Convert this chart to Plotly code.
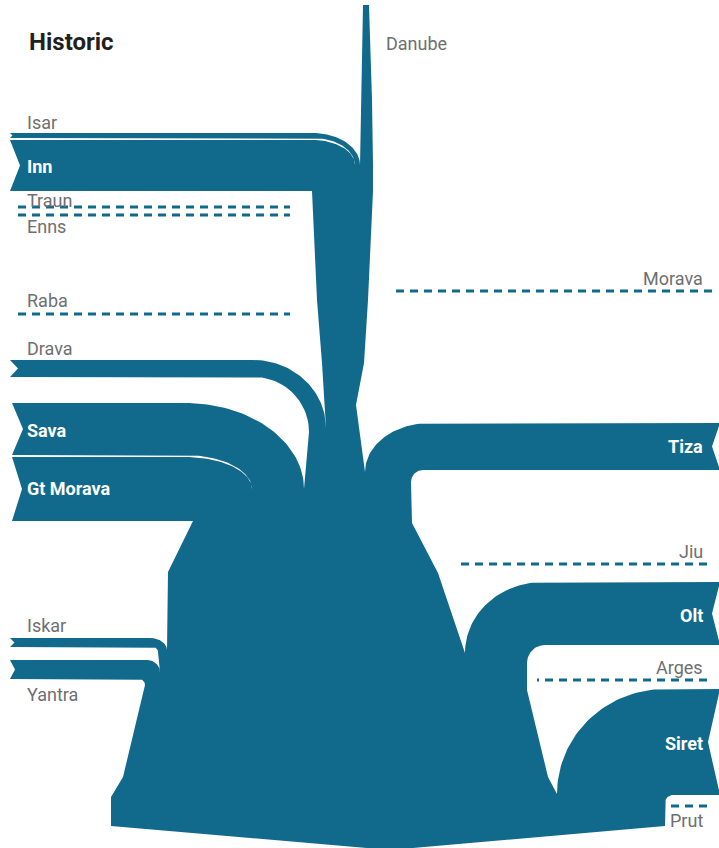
import numpy as np
import plotly.graph_objects as go

# ---------------------------------------------------------------- data
TITLE = "Historic"
MAIN_NAME = "Danube"

# tributaries, upstream -> downstream, and their historic load
# (relative units = band thickness; 0 = negligible, drawn as dashed line)
LEFT_NAMES = ["Isar", "Inn", "Traun", "Enns", "Raba", "Drava", "Sava", "Gt Morava", "Iskar", "Yantra"]
LEFT_LOAD = [5, 51, 0, 0, 0, 17, 52, 64, 9, 19]
RIGHT_NAMES = ["Morava", "Tiza", "Jiu", "Olt", "Arges", "Siret", "Prut"]
RIGHT_LOAD = [0, 47, 0, 63, 0, 106, 0]

# ---------------------------------------------------------------- layout / geometry
W, H = 719, 848
PX_PER_UNIT = 1.0
BLUE = "#116a8b"
GREY = "#6e6f71"
DARK = "#231f20"
LABEL_FONT = "Roboto, sans-serif"

# where each tributary enters and how it bends into the trunk
LEFT_GEOM = {
    "Isar":      dict(y=133, x0=10, bend=313, rx=47, ry=32, notch=2.5, gap=2, label=("above", 122)),
    "Inn":       dict(y=140, x0=10, inner=312, rc=0, notch=10, label=("inside", 166)),
    "Traun":     dict(y=207, x0=18, x1=290, label=("above", 200)),
    "Enns":      dict(y=215, x0=18, x1=290, label=("below", 226)),
    "Raba":      dict(y=314, x0=18, x1=290, label=("above", 300)),
    "Drava":     dict(y=360, x0=10, bend=253, rx=73, ry=68, inner=309, rc=55, notch=8, label=("above", 348)),
    "Sava":      dict(y=403, x0=12, bend=185, rx=119, ry=86, notch=11, gap=2, label=("inside", 430)),
    "Gt Morava": dict(y=457, x0=12, inner=193, rc=0, notch=10, label=("inside", 488)),
    "Iskar":     dict(y=638, x0=10, bend=150, rx=17, ry=12, inner=158, rc=5, notch=4.5, label=("above", 625)),
    "Yantra":    dict(y=660, x0=10, bend=147, rx=13, ry=12, inner=145, rc=6, notch=5, label=("below", 694)),
}
RIGHT_GEOM = {
    "Morava": dict(y=291, x0=712, x1=390, label=("above", 278)),
    "Tiza":   dict(y=423, x0=720, bend=430, rx=65, ry=49, inner=411, rc=12, notch=8, label=("inside", 446)),
    "Jiu":    dict(y=564, x0=707, x1=457, label=("above", 551)),
    "Olt":    dict(y=582, x0=720, bend=543, rx=78, ry=71, inner=527, rc=18, notch=8, label=("inside", 615)),
    "Arges":  dict(y=680, x0=707, x1=537, label=("above", 667)),
    "Siret":  dict(y=689, x0=720, bend=665, rx=108, ry=105, inner=665, rc=8, notch=12, label=("inside", 743)),
    "Prut":   dict(y=806, x0=707, x1=667, label=("below", 820)),
}

# outline order of the trunk banks (left bank top->bottom, right bank bottom->top)
LEFT_SEQUENCE = [
    ("bank", [(363, 5), (361, 100)]),
    ("group", ["Isar", "Inn"]),
    ("bank", [(317, 300), (322, 363)]),
    ("group", ["Drava"]),
    ("group", ["Sava", "Gt Morava"]),
    ("bank", [(168, 572)]),
    ("group", ["Iskar"]),
    ("group", ["Yantra"]),
    ("bank", [(123, 777), (111, 797), (111, 826), (390, 850)]),
]
RIGHT_SEQUENCE = [
    ("bank", [(665, 826)]),
    ("group", ["Siret"]),
    ("bank", [(548, 777), (527, 690)]),
    ("group", ["Olt"]),
    ("bank", [(438, 573), (412, 523)]),
    ("group", ["Tiza"]),
    ("bank", [(356, 405), (364, 363), (368, 300), (373, 191), (373, 165), (372, 100), (369, 5)]),
]

LOAD = dict(zip(LEFT_NAMES, LEFT_LOAD))
LOAD.update(zip(RIGHT_NAMES, RIGHT_LOAD))
SIDE = {n: "L" for n in LEFT_NAMES}
SIDE.update({n: "R" for n in RIGHT_NAMES})
GEOM = {**LEFT_GEOM, **RIGHT_GEOM}


def ell(cx, cy, rx, ry, a0, a1, n=48):
    a = np.linspace(a0, a1, n)
    return list(zip(cx + rx * np.cos(a), cy + ry * np.sin(a)))


def width(name):
    return LOAD[name] * PX_PER_UNIT


def outer_arc(name):
    g = GEOM[name]
    yt = g["y"]
    if SIDE[name] == "L":
        return ell(g["bend"], yt + g["ry"], g["rx"], g["ry"], -np.pi / 2, 0)
    return ell(g["bend"], yt + g["ry"], g["rx"], g["ry"], -np.pi / 2, -np.pi)


def inner_arc(name):
    g = GEOM[name]
    yb = g["y"] + width(name)
    rc = g["rc"]
    if rc <= 0:
        return [(g["inner"], yb)]
    if SIDE[name] == "L":
        return ell(g["inner"] - rc, yb + rc, rc, rc, -np.pi / 2, 0, 24)
    return ell(g["inner"] + rc, yb + rc, rc, rc, -np.pi / 2, -np.pi, 24)


def band_ends(names, sign):
    """outer ends of a group of stacked bands, each cut with a notch"""
    pts = []
    for n in names:
        g = GEOM[n]
        yt, w = g["y"], width(n)
        pts += [(g["x0"], yt), (g["x0"] + sign * g["notch"], yt + w / 2), (g["x0"], yt + w)]
    return pts


outline = []
for kind, item in LEFT_SEQUENCE:
    if kind == "bank":
        outline += item
    else:
        outline += outer_arc(item[0])[::-1]
        outline += band_ends(item, +1)
        outline += inner_arc(item[-1])
for kind, item in RIGHT_SEQUENCE:
    if kind == "bank":
        outline += item
    else:
        outline += inner_arc(item[-1])[::-1]
        outline += band_ends(item[::-1], -1)[::-1]
        outline += outer_arc(item[0])

fig = go.Figure()
ox, oy = zip(*outline)
fig.add_trace(go.Scatter(x=list(ox) + [ox[0]], y=list(oy) + [oy[0]], mode="lines",
                         fill="toself", fillcolor=BLUE, line=dict(width=0, color=BLUE),
                         hoverinfo="skip", showlegend=False))

# white separators between stacked bands that share a bend
for kind, item in LEFT_SEQUENCE:
    if kind == "group" and len(item) > 1:
        for up in item[:-1]:
            g = GEOM[up]
            w = width(up)
            yt, cy = g["y"], g["y"] + g["ry"]
            gap = g["gap"]
            a = ell(g["bend"], cy, g["rx"] - w, g["ry"] - w, -np.pi / 2, 0)
            b = ell(g["bend"], cy, g["rx"] - w, g["ry"] - w - gap, -np.pi / 2, 0)
            pts = [(g["x0"] - 3, yt + w)] + a + b[::-1] + [(g["x0"] - 3, yt + w + gap)]
            px, py = zip(*pts)
            fig.add_trace(go.Scatter(x=list(px) + [px[0]], y=list(py) + [py[0]], mode="lines",
                                     fill="toself", fillcolor="white", line=dict(width=0, color="white"),
                                     hoverinfo="skip", showlegend=False))

# tributaries with negligible load: dashed lines
for n in LEFT_NAMES + RIGHT_NAMES:
    if LOAD[n] == 0:
        g = GEOM[n]
        fig.add_trace(go.Scatter(x=[g["x0"], g["x1"]], y=[g["y"], g["y"]], mode="lines",
                                 line=dict(color=BLUE, width=3, dash="8px,6px"),
                                 hoverinfo="skip", showlegend=False))

# labels
for n in LEFT_NAMES + RIGHT_NAMES:
    g = GEOM[n]
    where, ly = g["label"]
    inside = where == "inside"
    if SIDE[n] == "L":
        lx, anchor = 25, "left"
    else:
        lx, anchor = 705, "right"
    fig.add_annotation(x=lx, y=ly, text=n, showarrow=False, xanchor=anchor, yanchor="middle",
                       font=dict(family=LABEL_FONT, size=18,
                                 color="white" if inside else GREY,
                                 weight="bold" if inside else "normal"))

fig.add_annotation(x=384, y=43, text=MAIN_NAME, showarrow=False, xanchor="left", yanchor="middle",
                   font=dict(family=LABEL_FONT, size=18, color=GREY))
fig.add_annotation(x=27, y=42, text=TITLE, showarrow=False, xanchor="left", yanchor="middle",
                   font=dict(family="Roboto, sans-serif", size=24, color=DARK, weight="bold"))

fig.update_layout(width=W, height=H, margin=dict(l=0, r=0, t=0, b=0),
                  paper_bgcolor="white", plot_bgcolor="white", showlegend=False,
                  xaxis=dict(range=[0, W], visible=False, fixedrange=True),
                  yaxis=dict(range=[H, 0], visible=False, fixedrange=True))
fig.write_html("out.html", config={"displayModeBar": False, "staticPlot": True},
               post_script="document.body.style.margin='0';document.body.style.overflow='hidden';")
